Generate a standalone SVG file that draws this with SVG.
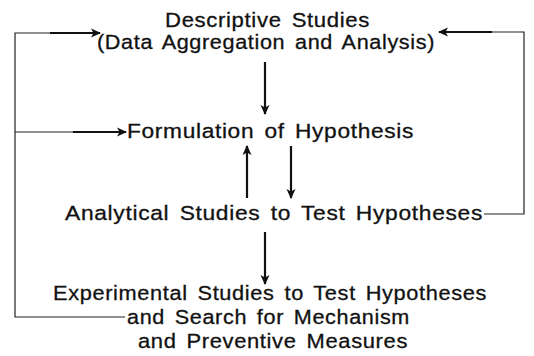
<svg xmlns="http://www.w3.org/2000/svg" width="534" height="356" viewBox="0 0 534 356">
  <defs>
    <style>
      .t { font-family: "Liberation Sans", Arial, sans-serif; font-size: 20.5px; letter-spacing: 0.6px; word-spacing: 3px; fill: #111; stroke: #111; stroke-width: 0.3; }
      .thin { stroke: #222; stroke-width: 1.2; fill: none; }
      .thick { stroke: #111; stroke-width: 2.2; fill: none; }
    </style>
    <marker id="ah" markerUnits="userSpaceOnUse" markerWidth="10" markerHeight="10" viewBox="0 0 10 10" refX="9" refY="5" orient="auto">
      <path d="M0,0.5 L10,5 L0,9.5 L2.5,5 z" fill="#111"/>
    </marker>
  </defs>
  <rect width="534" height="356" fill="#fff"/>

  <g id="descriptive">
    <text class="t" x="165" y="27" textLength="205" lengthAdjust="spacingAndGlyphs">Descriptive Studies</text>
    <text class="t" x="97" y="49" textLength="338" lengthAdjust="spacingAndGlyphs">(Data Aggregation and Analysis)</text>
  </g>
  <g id="hypothesis">
    <text class="t" x="127" y="138" textLength="287" lengthAdjust="spacingAndGlyphs">Formulation of Hypothesis</text>
  </g>
  <g id="analytical">
    <text class="t" x="65" y="220" textLength="418" lengthAdjust="spacingAndGlyphs">Analytical Studies to Test Hypotheses</text>
  </g>
  <g id="experimental">
    <text class="t" x="53" y="300" textLength="434" lengthAdjust="spacingAndGlyphs">Experimental Studies to Test Hypotheses</text>
    <text class="t" x="127" y="324" textLength="283" lengthAdjust="spacingAndGlyphs">and Search for Mechanism</text>
    <text class="t" x="138" y="348" textLength="270" lengthAdjust="spacingAndGlyphs">and Preventive Measures</text>
  </g>

  <g id="connectors">
    <!-- left feedback loop -->
    <polyline class="thin" points="125,317 15,317 15,33 52,33"/>
    <line class="thick" x1="50" y1="33" x2="100" y2="33" marker-end="url(#ah)"/>
    <line class="thin" x1="15" y1="132" x2="75" y2="132"/>
    <line class="thick" x1="73" y1="132" x2="126" y2="132" marker-end="url(#ah)"/>
    <!-- right feedback loop -->
    <polyline class="thin" points="484,214 524,214 524,32 490,32"/>
    <line class="thick" x1="492" y1="32" x2="439" y2="32" marker-end="url(#ah)"/>
    <!-- main flow -->
    <line class="thick" x1="265" y1="62" x2="265" y2="114" marker-end="url(#ah)"/>
    <line class="thick" x1="247" y1="198" x2="247" y2="146" marker-end="url(#ah)"/>
    <line class="thick" x1="291" y1="146" x2="291" y2="198" marker-end="url(#ah)"/>
    <line class="thick" x1="265" y1="232" x2="265" y2="284" marker-end="url(#ah)"/>
  </g>
</svg>
